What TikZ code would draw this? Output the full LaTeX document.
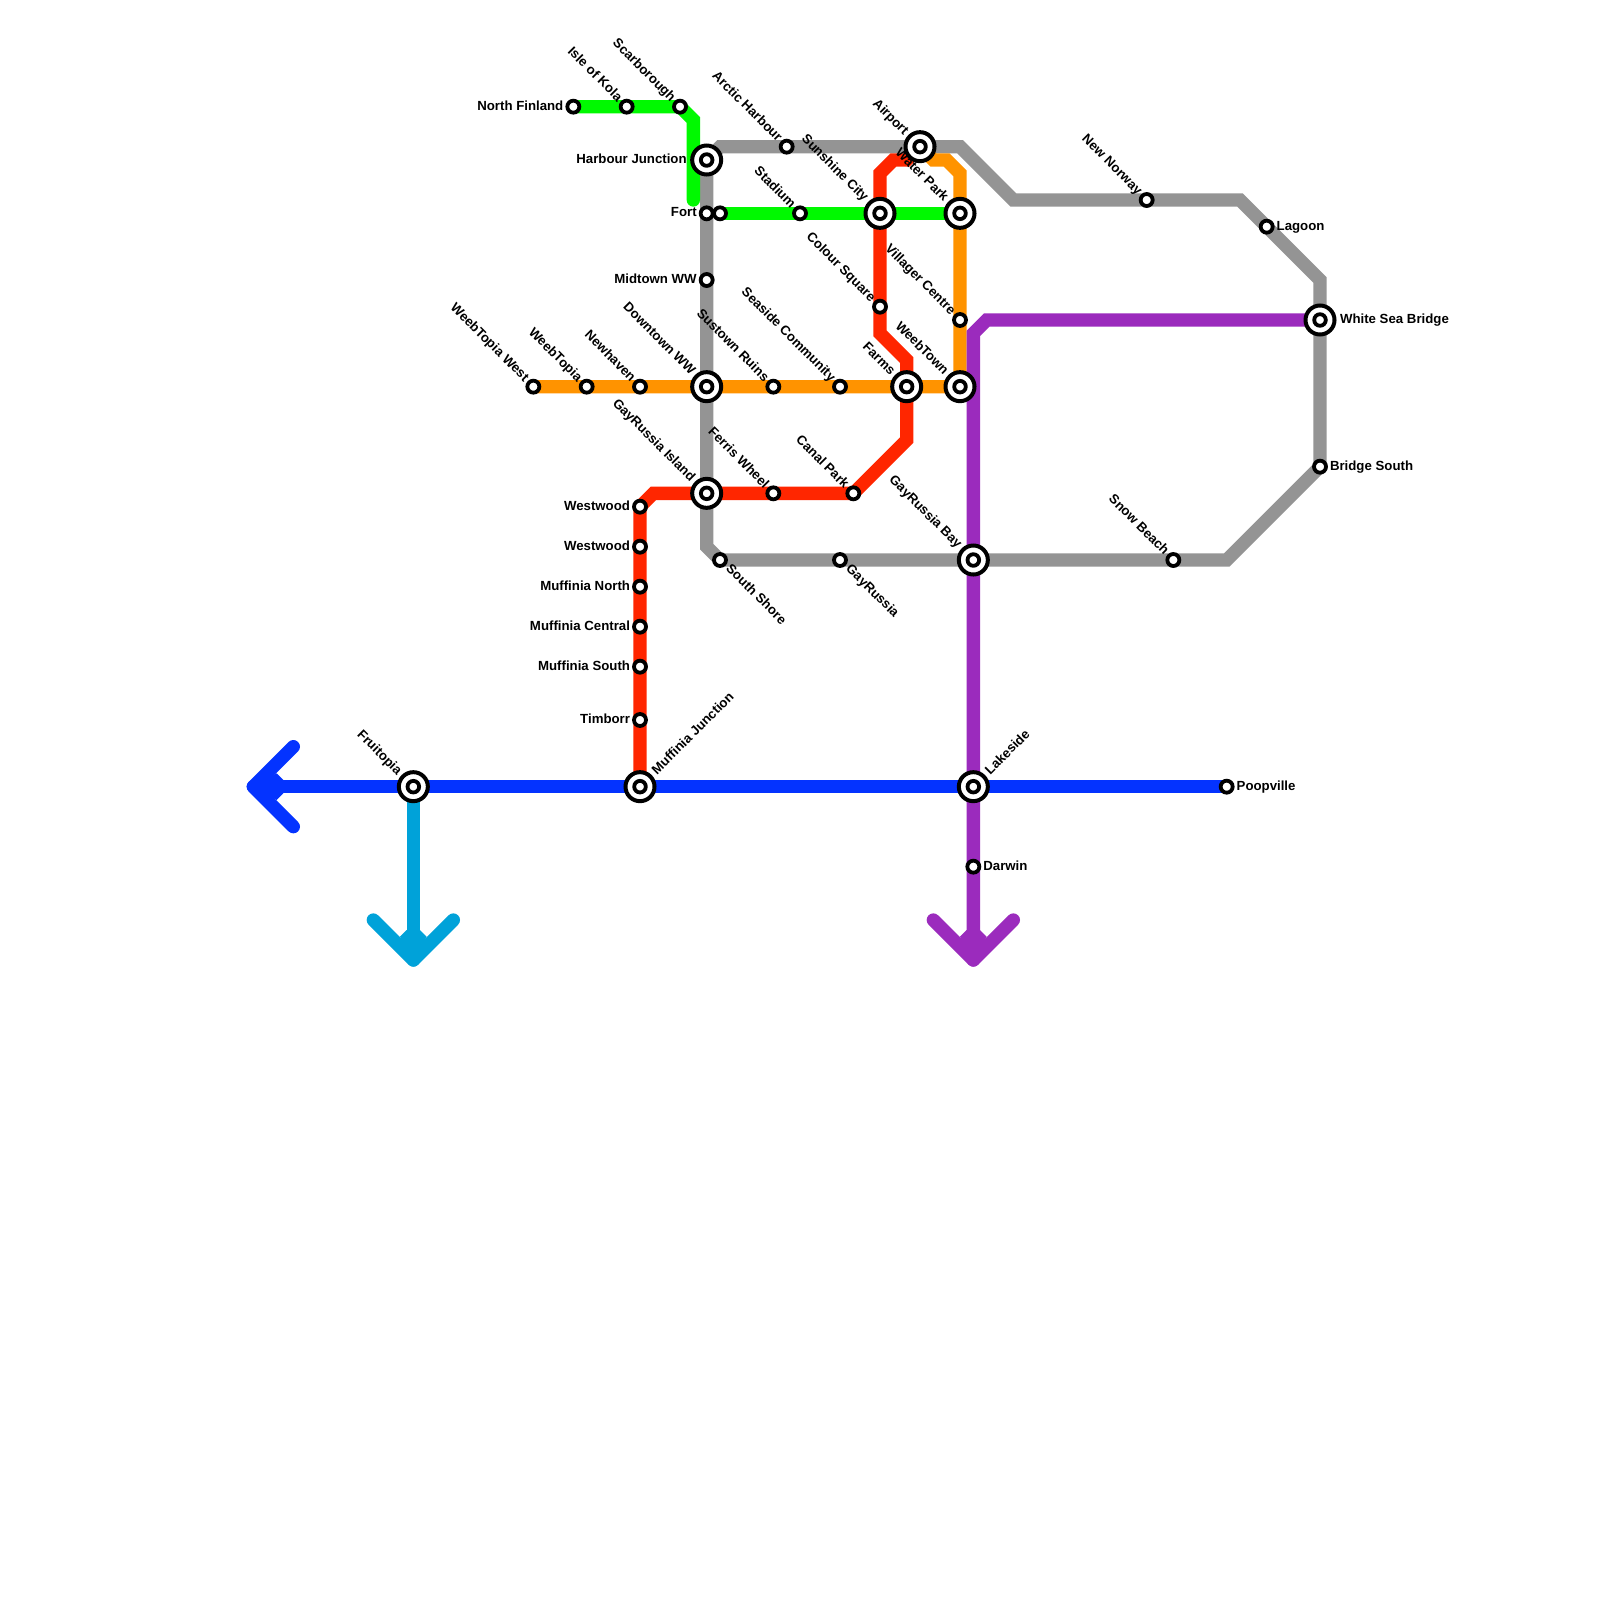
\documentclass[tikz,border=0pt]{standalone}
\usepackage{fontspec}
\setmainfont{Liberation Sans}[BoldFont={Liberation Sans Bold}]
\usetikzlibrary{calc}
\pgfdeclarelayer{bg}\pgfdeclarelayer{lbl}\pgfsetlayers{bg,main,lbl}
\definecolor{cgrey}{HTML}{949494}
\definecolor{cgreen}{HTML}{00F900}
\definecolor{cred}{HTML}{FF2600}
\definecolor{corange}{HTML}{FF9300}
\definecolor{cpurple}{HTML}{9B2BBD}
\definecolor{cblue}{HTML}{0433FF}
\definecolor{ccyan}{HTML}{00A2D9}
\newdimen\pxu \pxu=0.03cm
\tikzset{
 x=0.4cm,y=-0.4cm,
 metro/.style={line width=0.4cm,line cap=round,line join=miter,miter limit=10},
 chev/.style={line width=0.4cm,line cap=round,line join=round},
 small/.style={circle,draw=black,fill=white,line width=3.8\pxu,minimum size=12\pxu,inner sep=0pt,outer sep=0pt},
 big/.style={circle,draw=black,fill=white,line width=4\pxu,minimum size=29\pxu,inner sep=0pt,outer sep=0pt,
   path picture={\draw[black,line width=3.8\pxu] (path picture bounding box.center) circle (5.8\pxu);}},
 txt/.style={font=\bfseries\fontsize{11.3pt}{12pt}\selectfont,text=black,inner sep=0pt,outer sep=0pt,text height=8.2pt,text depth=2pt},
 lw/.style={txt,anchor=east,xshift=-10\pxu},
 le/.style={txt,anchor=west,xshift=10\pxu},
 lwb/.style={txt,anchor=east,xshift=-20\pxu},
 leb/.style={txt,anchor=west,xshift=20\pxu},
 lnw/.style={txt,xshift=-7\pxu,yshift=7\pxu,rotate=-45,anchor=east},
 lnwb/.style={txt,xshift=-14\pxu,yshift=13.7\pxu,rotate=-45,anchor=east},
 lse/.style={txt,xshift=8\pxu,yshift=-7\pxu,rotate=-45,anchor=west},
 lneb/.style={txt,xshift=14.5\pxu,yshift=14\pxu,rotate=45,anchor=west},
}
\newcommand{\stn}[5]{\node[#1] (#2) at (#3) {};\begin{pgfonlayer}{lbl}\node[#4] (#2-l) at (#3) {#5};\end{pgfonlayer}}
\begin{document}
\begin{tikzpicture}
\useasboundingbox (0,0) rectangle (120,120);
% stations
\stn{small}{northfinland}{43,8}{lw}{North Finland}
\stn{small}{isleofkola}{47,8}{lnw}{Isle of Kola}
\stn{small}{scarborough}{51,8}{lnw}{Scarborough}
\stn{big}{harbourj}{53,12}{lwb}{Harbour Junction}
\stn{small}{fort}{53,16}{lw}{Fort}
\node[small] (fort2) at (54,16) {};
\stn{small}{midtown}{53,21}{lw}{Midtown WW}
\stn{big}{downtown}{53,29}{lnwb}{Downtown WW}
\stn{big}{grisland}{53,37}{lnwb}{GayRussia Island}
\stn{small}{arctic}{59,11}{lnw}{Arctic Harbour}
\stn{big}{airport}{69,11}{lnwb}{Airport}
\stn{small}{stadium}{60,16}{lnw}{Stadium}
\stn{big}{sunshine}{66,16}{lnwb}{Sunshine City}
\stn{big}{waterpark}{72,16}{lnwb}{Water Park}
\stn{small}{colour}{66,23}{lnw}{Colour Square}
\stn{small}{villager}{72,24}{lnw}{Villager Centre}
\stn{small}{wtwest}{40,29}{lnw}{WeebTopia West}
\stn{small}{weebtopia}{44,29}{lnw}{WeebTopia}
\stn{small}{newhaven}{48,29}{lnw}{Newhaven}
\stn{small}{sustown}{58,29}{lnw}{Sustown Ruins}
\stn{small}{seaside}{63,29}{lnw}{Seaside Community}
\stn{big}{farms}{68,29}{lnwb}{Farms}
\stn{big}{weebtown}{72,29}{lnwb}{WeebTown}
\stn{small}{ferris}{58,37}{lnw}{Ferris Wheel}
\stn{small}{canal}{64,37}{lnw}{Canal Park}
\stn{small}{west1}{48,38}{lw}{Westwood}
\stn{small}{west2}{48,41}{lw}{Westwood}
\stn{small}{mufn}{48,44}{lw}{Muffinia North}
\stn{small}{mufc}{48,47}{lw}{Muffinia Central}
\stn{small}{mufs}{48,50}{lw}{Muffinia South}
\stn{small}{timborr}{48,54}{lw}{Timborr}
\stn{big}{mufj}{48,59}{lneb}{Muffinia Junction}
\stn{small}{southshore}{54,42}{lse}{South Shore}
\stn{small}{gayrussia}{63,42}{lse}{GayRussia}
\stn{big}{grbay}{73,42}{lnwb}{GayRussia Bay}
\stn{small}{snow}{88,42}{lnw}{Snow Beach}
\stn{small}{newnorway}{86,15}{lnw}{New Norway}
\stn{small}{lagoon}{95,17}{le}{Lagoon}
\stn{big}{wsb}{99,24}{leb}{White Sea Bridge}
\stn{small}{bridges}{99,35}{le}{Bridge South}
\stn{big}{fruitopia}{31,59}{lnwb}{Fruitopia}
\stn{big}{lakeside}{73,59}{lneb}{Lakeside}
\stn{small}{poopville}{92,59}{le}{Poopville}
\stn{small}{darwin}{73,65}{le}{Darwin}
% bends and line ends
\coordinate (g1) at (54,11);\coordinate (g2) at (72,11);\coordinate (g3) at (76,15);\coordinate (g4) at (93,15);
\coordinate (g5) at (99,21);\coordinate (g6) at (92,42);\coordinate (g7) at (53,41);
\coordinate (n1) at (51,8);\coordinate (n2) at (52,9);\coordinate (n3) at (52,15);
\coordinate (r1) at (49,37);\coordinate (r2) at (68,33);\coordinate (r3) at (68,27);\coordinate (r4) at (66,25);
\coordinate (r5) at (66,13);\coordinate (r6) at (67,12);\coordinate (r7) at (68,12);
\coordinate (o1) at (72,13);\coordinate (o2) at (71,12);\coordinate (o3) at (70,12);
\coordinate (p1) at (74,24);\coordinate (p2) at (73,25);
\coordinate (bt) at (19,59);\coordinate (ba) at (22,56);\coordinate (bb) at (22,62);
\coordinate (ct) at (31,72);\coordinate (ca) at (28,69);\coordinate (cb) at (34,69);
\coordinate (pt) at (73,72);\coordinate (pa) at (70,69);\coordinate (pb) at (76,69);
\begin{pgfonlayer}{bg}
\fill[white] (0,0) rectangle (120,120);
\draw[metro,cgrey] (harbourj.center) -- (g1) -- (g2) -- (g3) -- (g4) -- (g5) -- (bridges.center) -- (g6) -- (southshore.center) -- (g7) -- (harbourj.center);
\draw[metro,cgreen] (northfinland.center) -- (n1) -- (n2) -- (n3);
\draw[metro,cgreen] (fort2.center) -- (waterpark.center);
\draw[metro,cred] (mufj.center) -- (west1.center) -- (r1) -- (canal.center) -- (r2) -- (r3) -- (r4) -- (r5) -- (r6) -- (r7) -- (airport.center);
\draw[metro,corange] (wtwest.center) -- (weebtown.center) -- (o1) -- (o2) -- (o3) -- (airport.center);
\draw[metro,cpurple] (wsb.center) -- (p1) -- (p2) -- (pt);
\draw[chev,cpurple] (pa) -- (pt) -- (pb);
\fill[cpurple] (73,72) -- (72,70.25) -- (72.5,69.75) -- (73.5,69.75) -- (74,70.25) -- cycle;
\draw[metro,cblue] (bt) -- (poopville.center);
\draw[chev,cblue] (ba) -- (bt) -- (bb);
\fill[cblue] (19,59) -- (20.75,58) -- (21.25,58.5) -- (21.25,59.5) -- (20.75,60) -- cycle;
\draw[metro,ccyan] (fruitopia.center) -- (ct);
\draw[chev,ccyan] (ca) -- (ct) -- (cb);
\fill[ccyan] (31,72) -- (30,70.25) -- (30.5,69.75) -- (31.5,69.75) -- (32,70.25) -- cycle;
\end{pgfonlayer}
\end{tikzpicture}
\end{document}
